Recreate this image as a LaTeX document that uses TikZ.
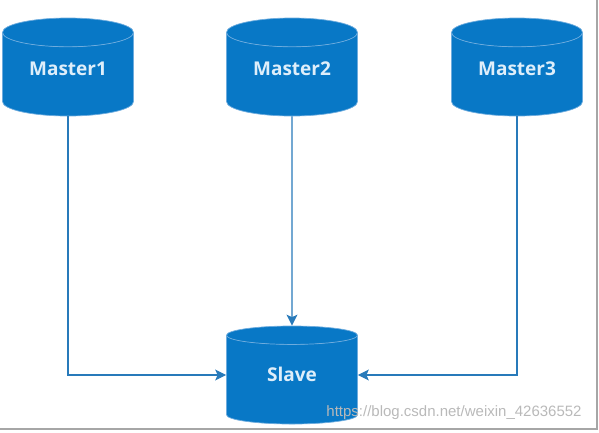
\documentclass[tikz,border=0pt]{standalone}
\usepackage{fontspec}
\setmainfont{Open Sans}
\newfontfamily\markfont{Liberation Sans}
\usetikzlibrary{shapes.geometric, arrows.meta}
\definecolor{dbblue}{RGB}{8,120,198}
\definecolor{dbrim}{RGB}{110,172,222}
\definecolor{linkblue}{RGB}{40,122,186}
\definecolor{dbtext}{RGB}{222,238,250}

\begin{document}
\begin{tikzpicture}[
    x = 1pt, y = -1pt,
    database/.style = {
      cylinder, shape border rotate = 90, aspect = 0.37,
      anchor = shape center,
      draw = dbrim, line width = 0.7pt,
      cylinder uses custom fill,
      cylinder body fill = dbblue, cylinder end fill = dbblue,
      minimum width = 131pt, minimum height = 98pt,
      inner sep = 0pt, text depth = 12pt,
      text = dbtext, font = \fontsize{19}{22}\selectfont\bfseries
    },
    link/.style = {
      draw = linkblue, line width = 1.1pt,
      -{Stealth[length = 11pt, width = 11pt, inset = 2.5pt]}
    }
  ]
  \useasboundingbox (0,0) rectangle (599,432);

  \node [database] (master1) at (68,67)  {Master1};
  \node [database] (master2) at (292,67) {Master2};
  \node [database] (master3) at (517,67) {Master3};
  \node [database] (slave)   at (292,375) {Slave};

  \draw [link] (master1) |- (slave.west |- slave.shape center);
  \draw [link] (master2) -- (slave);
  \draw [link] (master3) |- (slave.east |- slave.shape center);

  \node [text = gray!55, font = \markfont\fontsize{15}{18}\selectfont] (mark)
    at (454,413) {https://blog.csdn.net/weixin\_42636552};

  \draw [gray!70, line width = 1.5pt] (597,0) -- (597,429) -- (0,429);
\end{tikzpicture}
\end{document}
